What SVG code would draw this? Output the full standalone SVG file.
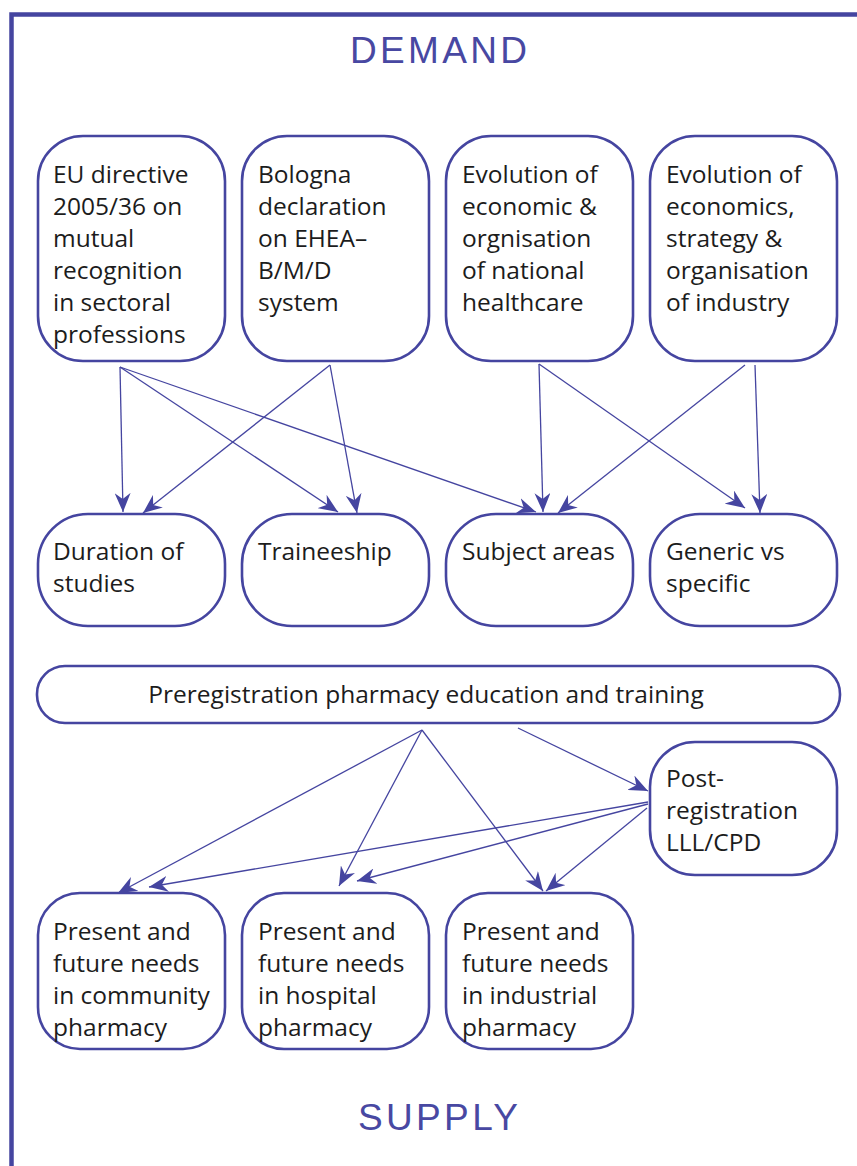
<svg xmlns="http://www.w3.org/2000/svg" width="857" height="1166" viewBox="0 0 857 1166">
<style>
.box{fill:#fff;stroke:#4545a0;stroke-width:2.6}
.t{font-family:"Open Sans","Noto Sans",sans-serif;font-size:24.5px;fill:#1c1c1c}
.h{font-family:"Liberation Sans",Arial,sans-serif;font-size:37px;fill:#4848a2}
.c{stroke:#4545a0;stroke-width:1.3;fill:none;marker-end:url(#ah)}
</style>
<defs>
<marker id="ah" markerUnits="userSpaceOnUse" markerWidth="20" markerHeight="16" refX="19" refY="8" orient="auto" viewBox="0 0 20 16">
<path d="M0,0 L19,8 L0,16 L6,8 z" fill="#4545a0"/>
</marker>
</defs>
<rect width="857" height="1166" fill="#fff"/>
<path d="M11.5,1166 V14.5 H857" fill="none" stroke="#4545a0" stroke-width="4.5"/>
<text class="h" x="438.5" y="63" text-anchor="middle" textLength="177">DEMAND</text>
<text class="h" x="438" y="1130" text-anchor="middle" textLength="160">SUPPLY</text>
<g id="n1"><rect class="box" x="38" y="136" width="187" height="225" rx="45"/>
<text class="t" x="53" y="183">EU directive</text><text class="t" x="53" y="215">2005/36 on</text><text class="t" x="53" y="247">mutual</text><text class="t" x="53" y="279">recognition</text><text class="t" x="53" y="311">in sectoral</text><text class="t" x="53" y="343">professions</text></g>
<g id="n2"><rect class="box" x="242" y="136" width="187" height="225" rx="45"/>
<text class="t" x="258" y="183">Bologna</text><text class="t" x="258" y="215">declaration</text><text class="t" x="258" y="247">on EHEA–</text><text class="t" x="258" y="279">B/M/D</text><text class="t" x="258" y="311">system</text></g>
<g id="n3"><rect class="box" x="446" y="136" width="187" height="225" rx="45"/>
<text class="t" x="462" y="183">Evolution of</text><text class="t" x="462" y="215">economic &amp;</text><text class="t" x="462" y="247">orgnisation</text><text class="t" x="462" y="279">of national</text><text class="t" x="462" y="311">healthcare</text></g>
<g id="n4"><rect class="box" x="650" y="136" width="187" height="225" rx="45"/>
<text class="t" x="666" y="183">Evolution of</text><text class="t" x="666" y="215">economics,</text><text class="t" x="666" y="247">strategy &amp;</text><text class="t" x="666" y="279">organisation</text><text class="t" x="666" y="311">of industry</text></g>
<g id="n5"><rect class="box" x="38" y="514" width="187" height="112" rx="50"/>
<text class="t" x="53" y="560">Duration of</text><text class="t" x="53" y="592">studies</text></g>
<g id="n6"><rect class="box" x="242" y="514" width="187" height="112" rx="50"/>
<text class="t" x="258" y="560">Traineeship</text></g>
<g id="n7"><rect class="box" x="446" y="514" width="187" height="112" rx="50"/>
<text class="t" x="462" y="560">Subject areas</text></g>
<g id="n8"><rect class="box" x="650" y="514" width="187" height="112" rx="50"/>
<text class="t" x="666" y="560">Generic vs</text><text class="t" x="666" y="592">specific</text></g>
<g id="n9"><rect class="box" x="37" y="666" width="803" height="57" rx="28"/>
<text class="t" x="426" y="703" text-anchor="middle">Preregistration pharmacy education and training</text></g>
<g id="n10"><rect class="box" x="650" y="742" width="187" height="133" rx="45"/>
<text class="t" x="666" y="787">Post-</text><text class="t" x="666" y="819">registration</text><text class="t" x="666" y="851">LLL/CPD</text></g>
<g id="n11"><rect class="box" x="38" y="893" width="187" height="156" rx="42"/>
<text class="t" x="53" y="940">Present and</text><text class="t" x="53" y="972">future needs</text><text class="t" x="53" y="1004">in community</text><text class="t" x="53" y="1036">pharmacy</text></g>
<g id="n12"><rect class="box" x="242" y="893" width="187" height="156" rx="42"/>
<text class="t" x="258" y="940">Present and</text><text class="t" x="258" y="972">future needs</text><text class="t" x="258" y="1004">in hospital</text><text class="t" x="258" y="1036">pharmacy</text></g>
<g id="n13"><rect class="box" x="446" y="893" width="187" height="156" rx="42"/>
<text class="t" x="462" y="940">Present and</text><text class="t" x="462" y="972">future needs</text><text class="t" x="462" y="1004">in industrial</text><text class="t" x="462" y="1036">pharmacy</text></g>
<g id="connectors">
<line class="c" x1="120" y1="367" x2="123" y2="512"/>
<line class="c" x1="120" y1="367" x2="338" y2="512"/>
<line class="c" x1="120" y1="367" x2="536" y2="512"/>
<line class="c" x1="330" y1="365" x2="143" y2="513"/>
<line class="c" x1="330" y1="365" x2="357" y2="513"/>
<line class="c" x1="539" y1="364" x2="543" y2="512"/>
<line class="c" x1="539" y1="364" x2="745" y2="508"/>
<line class="c" x1="745" y1="365" x2="558" y2="513"/>
<line class="c" x1="755" y1="365" x2="760" y2="513"/>
<line class="c" x1="422" y1="730" x2="118" y2="893"/>
<line class="c" x1="422" y1="730" x2="339" y2="886"/>
<line class="c" x1="422" y1="730" x2="543" y2="891"/>
<line class="c" x1="518" y1="728" x2="648" y2="791"/>
<line class="c" x1="648" y1="802" x2="149" y2="887"/>
<line class="c" x1="648" y1="804" x2="357" y2="881"/>
<line class="c" x1="647" y1="808" x2="546" y2="891"/>
</g>
</svg>
